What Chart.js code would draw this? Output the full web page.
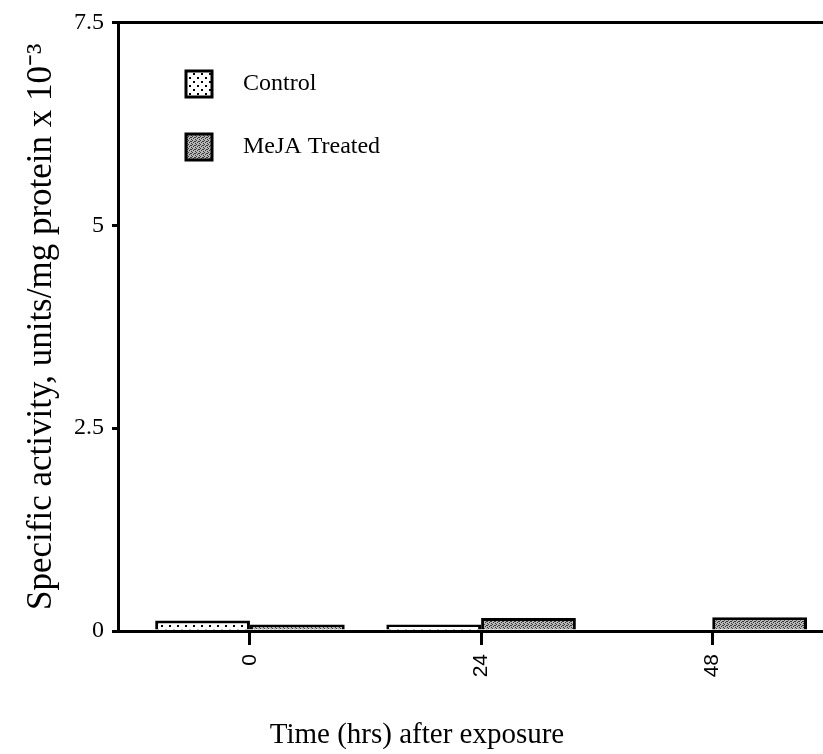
<!DOCTYPE html>
<html><head><meta charset="utf-8">
<script src="https://cdn.jsdelivr.net/npm/chart.js@4/dist/chart.umd.min.js"></script>
<style>html,body{margin:0;padding:0;background:#fff;overflow:hidden}#wrap{width:823px;height:754px;position:relative}</style>
</head><body><div id="wrap"><canvas id="c" width="823" height="754"></canvas></div>
<script>
// ---- data ----
const hours = [0, 24, 48];
const yTickValues = [0, 2.5, 5, 7.5];
const controlValues = [0.13, 0.08, 0.02];
const mejaValues = [0.08, 0.16, 0.17];
const seriesNames = ['Control', 'MeJA Treated'];
const xTitle = 'Time (hrs) after exposure';
const yTitle = 'Specific activity, units/mg protein x 10\u207B\u00B3';

// ---- fills ----
function makePattern(size, bg, dots, dotColor) {
  const c = document.createElement('canvas');
  c.width = size; c.height = size;
  const g = c.getContext('2d');
  g.fillStyle = bg; g.fillRect(0, 0, size, size);
  g.fillStyle = dotColor;
  dots.forEach(d => g.fillRect(d[0], d[1], d[2], d[2]));
  return g.createPattern(c, 'repeat');
}
const controlFill = makePattern(8, '#ffffff', [[1,1,2],[5,5,2]], '#000000');
const mejaFill = makePattern(4, '#b4b4b4', [[0,0,1],[2,1,1],[1,2,1],[3,3,1],[3,1,1]], '#3a3a3a');

const FONT = 'Liberation Serif';

const insideLegend = {
  id: 'insideLegend',
  afterDatasetsDraw(chart) {
    const ctx = chart.ctx;
    ctx.save();
    chart.data.datasets.forEach((ds, i) => {
      const cy = 84 + i * 63;
      const bx = 186, bs = 26;
      ctx.fillStyle = ds.backgroundColor;
      ctx.fillRect(bx, cy - bs / 2, bs, bs);
      ctx.lineWidth = 3; ctx.strokeStyle = '#000';
      ctx.strokeRect(bx, cy - bs / 2, bs, bs);
      ctx.fillStyle = '#000';
      ctx.font = '24px "' + FONT + '"';
      ctx.textBaseline = 'middle'; ctx.textAlign = 'left';
      ctx.fillText(ds.label, 243, cy);
    });
    ctx.restore();
  }
};

new Chart(document.getElementById('c').getContext('2d'), {
  type: 'bar',
  data: {
    datasets: [
      { label: seriesNames[0], data: hours.map((h, i) => ({ x: h, y: controlValues[i] })),
        backgroundColor: controlFill, borderColor: '#000', borderWidth: 3,
        categoryPercentage: 0.82, barPercentage: 1 },
      { label: seriesNames[1], data: hours.map((h, i) => ({ x: h, y: mejaValues[i] })),
        backgroundColor: mejaFill, borderColor: '#000', borderWidth: 3,
        categoryPercentage: 0.82, barPercentage: 1 }
    ]
  },
  options: {
    responsive: false, animation: false, devicePixelRatio: 1,
    layout: { padding: { left: 11, top: 18, right: 0, bottom: 0 } },
    plugins: {
      legend: { display: false }, tooltip: { enabled: false },
      title: { display: true, position: 'bottom', text: xTitle, color: '#000',
        font: { family: FONT, size: 29, weight: 'normal' }, padding: { top: 0, bottom: 1 } }
    },
    scales: {
      x: {
        type: 'linear', min: -13.7, max: 59.5, offset: false,
        afterBuildTicks: s => { s.ticks = hours.map(v => ({ value: v })); },
        afterFit: s => { s.height = 754 - 631 - (29 * 1.2 + 1); },
        ticks: { minRotation: 90, maxRotation: 90, autoSkip: false, color: '#000', padding: 9,
          font: { family: 'Liberation Sans', size: 21 }, callback: v => String(v) },
        grid: { offset: false, drawOnChartArea: false, drawTicks: true, tickLength: 14, tickColor: '#000', tickWidth: 3 },
        border: { color: '#000', width: 3 }
      },
      y: {
        min: 0, max: 7.5,
        afterBuildTicks: s => { s.ticks = yTickValues.map(v => ({ value: v })); },
        afterFit: s => { s.width = 107; },
        ticks: { color: '#000', padding: 8, font: { family: FONT, size: 24 } },
        grid: { color: c => (c.tick && c.tick.value === 7.5) ? '#000' : 'rgba(0,0,0,0)',
          lineWidth: 3, tickLength: 6, tickColor: '#000', tickWidth: 3 },
        border: { color: '#000', width: 3 },
        title: { display: true, text: yTitle, color: '#000',
          font: { family: FONT, size: 35 }, padding: { top: 10, bottom: 0 } }
      }
    }
  },
  plugins: [insideLegend]
});
</script>
</body></html>
